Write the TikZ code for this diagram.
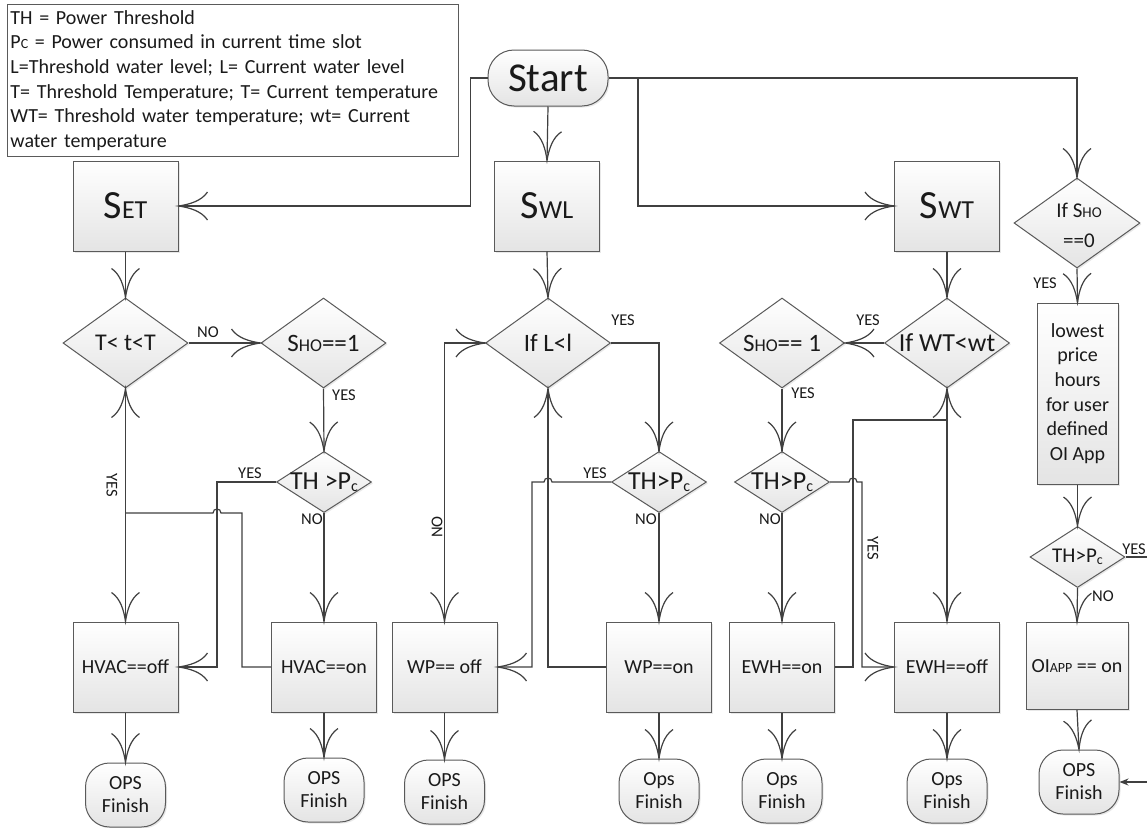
\documentclass[tikz,border=0pt]{standalone}
\usepackage{fontspec}
\setmainfont{Carlito}
\usetikzlibrary{shapes.geometric,shadows,arrows.meta}
\definecolor{lc}{HTML}{404040}
\definecolor{bc}{HTML}{5A5A5A}
\definecolor{boxg}{HTML}{E4E4E4}
\definecolor{tc}{HTML}{1A1A1A}
\newcommand\fsz[2]{\fontsize{#1}{#2}\selectfont}
\pgfdeclarearrow{
  name = Vis,
  setup code = {
    \pgfarrowssettipend{0pt}
    \pgfarrowssetlineend{-0.5pt}
    \pgfarrowssetvisualbackend{-29pt}
    \pgfarrowssetbackend{-29pt}
    \pgfarrowshullpoint{0pt}{0pt}
    \pgfarrowsupperhullpoint{-29pt}{14pt}
  },
  drawing code = {
    \pgfsetdash{}{0pt}
    \pgfpathmoveto{\pgfqpoint{-29pt}{14pt}}
    \pgfpathcurveto{\pgfqpoint{-23pt}{5pt}}{\pgfqpoint{-11pt}{1.6pt}}{\pgfqpoint{0pt}{0pt}}
    \pgfpathcurveto{\pgfqpoint{-11pt}{-1.6pt}}{\pgfqpoint{-23pt}{-5pt}}{\pgfqpoint{-29pt}{-14pt}}
    \pgfusepathqstroke
  }
}
\tikzset{
  ln/.style={draw=lc, line width=1.2pt},
  arr/.style={ln, -Vis},
  arrb/.style={ln, Vis-Vis},
  shade/.style={top color=white, bottom color=boxg, draw=bc, line width=1pt, text=tc,
    drop shadow={shadow xshift=1.5pt, shadow yshift=-1.5pt, opacity=0.18}},
  procbox/.style={shade, rectangle, minimum width=105pt, minimum height=90pt, inner sep=0pt, align=center, font=\fsz{20}{24}},
  dbig/.style={shade, diamond, minimum width=125pt, minimum height=90pt, inner sep=0pt},
  dsmall/.style={shade, diamond, minimum width=95pt, minimum height=61pt, inner sep=0pt},
  dtxt/.style={text=tc, inner sep=0pt, align=center},
  termS/.style={shade, rectangle, rounded corners=26pt, minimum width=120pt, minimum height=56pt, inner sep=0pt},
  ops/.style={shade, rectangle, rounded corners=24pt, minimum width=80pt, minimum height=64pt, inner sep=0pt, align=center, font=\fsz{20}{23}},
  lbl/.style={font=\fsz{16.5}{18}, text=tc, inner sep=0pt},
}
\newcommand\Pc[2]{P\raisebox{-1.5pt}{\fsz{#1}{#2}c}}
\begin{document}
\begin{tikzpicture}[x=1pt,y=-1pt]
\useasboundingbox (0,0) rectangle (1147,827);
\fill[white] (0,0) rectangle (1147,827);

% legend
\node[draw=bc, line width=0.9pt, anchor=north west, minimum width=451pt, minimum height=152pt,
  text width=445pt, inner xsep=3pt, inner ysep=0pt, align=left, font=\fsz{20}{24.6}, text=tc] (legend) at (7,4)
 {TH = Power Threshold\\
  P{\fsz{14}{24.6}C} = Power consumed in current time slot\\
  L=Threshold water level; L= Current water level\\
  T= Threshold Temperature; T= Current temperature\\
  WT= Threshold water temperature; wt= Current\\
  water temperature};

% start
\node[termS] (start) at (548,78) {\fsz{41}{44}Start};

% top boxes
\node[procbox] (SET) at (125.5,206) {\fsz{40}{44}S\fsz{26}{28}ET};
\node[procbox] (SWL) at (547,206) {\fsz{40}{44}S\fsz{26}{28}WL};
\node[procbox] (SWT) at (947,206) {\fsz{40}{44}S\fsz{26}{28}WT};

% diamonds row 1
\node[dbig, label={[dtxt,font=\fsz{24}{28}]center:T< t<T}] (T1) at (125.5,343) {};
\node[dbig, label={[dtxt]center:{\fsz{25}{28}S\fsz{18}{28}HO\fsz{25}{28}==1}}] (H1) at (323.5,343) {};
\node[dbig, label={[dtxt,font=\fsz{25}{28}]center:If L<l}] (L1) at (548,343) {};
\node[dbig, label={[dtxt]center:{\fsz{25}{28}S\fsz{18}{28}HO\fsz{25}{28}== 1}}] (H2) at (782,343) {};
\node[dbig, label={[dtxt,font=\fsz{26}{28}]center:If WT<wt}] (W1) at (947,343) {};
\node[dbig, minimum width=126pt] (S0) at (1077,223) {};
\node[dtxt, font=\fsz{21}{25}] (S0a) at (1079,210) {If S{\fsz{15}{25}HO}};
\node[dtxt, font=\fsz{21}{25}] (S0b) at (1079,241) {==0};

% small diamonds
\node[dsmall, label={[dtxt,font=\fsz{26}{28}]center:TH >\Pc{16}{16}}] (P1) at (324,482) {};
\node[dsmall, label={[dtxt,font=\fsz{26}{28}]center:TH>\Pc{16}{16}}] (P2) at (659,482) {};
\node[dsmall, label={[dtxt,font=\fsz{26}{28}]center:TH>\Pc{16}{16}}] (P3) at (782,482) {};
\node[dsmall, label={[dtxt,font=\fsz{21}{24}]center:TH>\Pc{14}{14}}] (P4) at (1077.5,557) {};

% right column box
\node[procbox, minimum width=81pt, minimum height=181pt, font=\fsz{20}{24.6}] (LP) at (1077.5,393.5)
  {lowest\\price\\hours\\for user\\defined\\OI App};

% bottom boxes
\node[procbox] (HVoff) at (125.5,667) {HVAC==off};
\node[procbox] (HVon) at (324,667) {HVAC==on};
\node[procbox] (WPoff) at (444.5,667) {WP== off};
\node[procbox] (WPon) at (659,667) {WP==on};
\node[procbox] (EWHon) at (782,667) {EWH==on};
\node[procbox] (EWHoff) at (947,667) {EWH==off};
\node[procbox, minimum width=102pt, minimum height=87pt] (OI) at (1077,666) {OI{\fsz{14}{24}APP} == on};

% finish terminals
\node[ops] (FA) at (125.5,795) {OPS\\Finish};
\node[ops] (FB) at (324,790) {OPS\\Finish};
\node[ops] (FC) at (444.5,792) {OPS\\Finish};
\node[ops] (FD) at (659,791) {Ops\\Finish};
\node[ops] (FE) at (782,791) {Ops\\Finish};
\node[ops] (FF) at (947,791) {Ops\\Finish};
\node[ops] (FG) at (1079,782) {OPS\\Finish};

% start connectors
\draw[arr] (start.west) -- ++(-17,0) |- (SET.east);
\draw[arr] (start.south) -- (SWL.north);
\draw[arr] (start.east) -| (S0.north);
\coordinate (b1) at (638,78);
\draw[arr] (b1) |- (SWT.west);

% S boxes to diamonds
\draw[arr] (SET.south) -- (T1.north);
\draw[arr] (SWL.south) -- (L1.north);
\draw[arr] (SWT.south) -- (W1.north);

% column A/B
\draw[arr] (T1.east) -- (H1.west);
\draw[arr] (H1.south) -- (P1.north);
\draw[arr] (P1.south) -- (HVon.north);
\draw[arr] (P1.west) -- (217,482) |- (HVoff.east);
\draw[arrb] (T1.south) -- (HVoff.north);
\coordinate (jA) at (125.5,513);
\draw[ln] (HVon.west) -- (242,667) -- (242,513) -- (221,513)
  .. controls (221,507.7) and (213,507.7) .. (213,513) -- (jA);

% column C/D
\draw[arrb] (L1.west) -| (WPoff.north);
\draw[arr] (L1.east) -| (P2.north);
\draw[arr] (P2.south) -- (WPon.north);
\draw[arr] (P2.west) -- (552,482) .. controls (552,476.7) and (544,476.7) .. (544,482)
  -- (532,482) |- (WPoff.east);
\draw[arr] (WPon.west) -| (L1.south);

% column E/F
\draw[arr] (W1.west) -- (H2.east);
\draw[arr] (H2.south) -- (P3.north);
\draw[arr] (P3.south) -- (EWHon.north);
\draw[arr] (P3.east) -- (849,482) .. controls (849,476.7) and (857,476.7) .. (857,482)
  -- (862,482) |- (EWHoff.west);
\draw[arrb] (W1.south) -- (EWHoff.north);
\coordinate (jF) at (947,420);
\draw[ln] (EWHon.east) -- (853,667) -- (853,420) -- (jF);

% column G
\draw[arr] (S0.south) -- (LP.north);
\draw[arr] (LP.south) -- (P4.north);
\draw[arr] (P4.south) -- (OI.north);
\coordinate (rt1) at (1150,557);
\coordinate (rt2) at (1150,782);
\draw[ln] (P4.east) -- (rt1);
\draw[ln, -{Stealth[length=9pt,width=7pt]}] (rt2) -- (FG.east);

% boxes to finish
\foreach \a/\b in {HVoff/FA, HVon/FB, WPoff/FC, WPon/FD, EWHon/FE, EWHoff/FF, OI/FG}
  \draw[arr] (\a.south) -- (\b.north);

% labels
\node[lbl] (l1) at (208,332) {NO};
\node[lbl] (l2) at (344,395) {YES};
\node[lbl] (l3) at (250,473) {YES};
\node[lbl] (l4) at (312,519) {NO};
\node[lbl, rotate=-90] (l5) at (112,485) {YES};
\node[lbl] (l6) at (623,320) {YES};
\node[lbl, rotate=90] (l7) at (437,527) {NO};
\node[lbl] (l8) at (595,473) {YES};
\node[lbl] (l9) at (646,519) {NO};
\node[lbl] (l10) at (868,320) {YES};
\node[lbl] (l11) at (803,393) {YES};
\node[lbl] (l12) at (770,519) {NO};
\node[lbl, rotate=-90] (l13) at (873,548) {YES};
\node[lbl] (l14) at (1045,283) {YES};
\node[lbl, anchor=east] (l15) at (1146,549) {YES};
\node[lbl] (l16) at (1103,596) {NO};
\end{tikzpicture}
\end{document}
